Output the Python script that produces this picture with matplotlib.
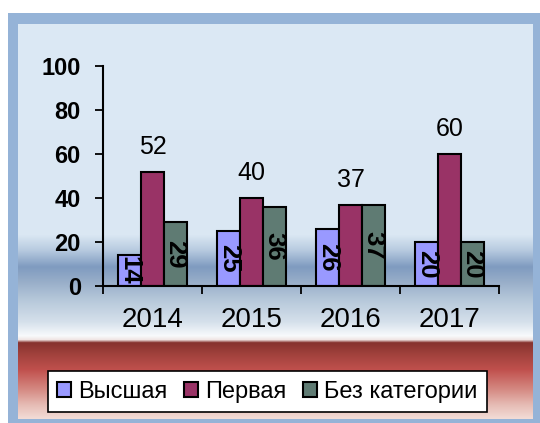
import numpy as np
import matplotlib
matplotlib.use("Agg")
import matplotlib.pyplot as plt
from matplotlib.colors import to_rgb
from matplotlib.patches import Rectangle, Patch

plt.rcParams['font.family'] = ['Liberation Sans', 'DejaVu Sans']

years = ["2014", "2015", "2016", "2017"]
series_names = ["Высшая", "Первая", "Без категории"]
vysshaya = [14, 25, 26, 20]
pervaya = [52, 40, 37, 60]
bez_kat = [29, 36, 37, 20]
yticks = [0, 20, 40, 60, 80, 100]

colors = ["#9999FF", "#993366", "#5F7B73"]

W, H = 540, 423
fig = plt.figure(figsize=(W / 100, H / 100), dpi=100)

# background / frame
bg = fig.add_axes([0, 0, 1, 1], zorder=0)
bg.axis('off')
bg.add_patch(Rectangle((8, 13), W - 8, H - 13, color="#95B3D7", lw=0, zorder=1))

stops = [
    (24, "#DCE9F5"), (235, "#DAE7F3"), (250, "#B8CBE0"), (267, "#7F9BC0"),
    (282, "#98AEC9"), (300, "#B6C8DA"), (322, "#D5E0EB"), (336, "#F8FAFC"),
    (340, "#F0E6E4"), (343, "#86322E"), (355, "#A2423D"), (370, "#C0504D"),
    (390, "#D58A83"), (405, "#E6BBB4"), (419, "#F2DCD6"),
]
y0, y1 = 24, 419
ys = np.arange(y0, y1 + 1)
sy = np.array([s[0] for s in stops], float)
sc = np.array([to_rgb(s[1]) for s in stops])
grad = np.stack([np.interp(ys, sy, sc[:, i]) for i in range(3)], axis=-1)
img = np.repeat(grad[:, None, :], 2, axis=1)
bg.imshow(img, extent=(18, 533, y1, y0), aspect='auto', interpolation='bilinear', zorder=2)
bg.set_xlim(0, W)
bg.set_ylim(H, 0)

# main axes
ax = fig.add_axes([103 / W, (H - 286) / H, 396 / W, 220 / H], zorder=1)
ax.patch.set_alpha(0)
x = np.arange(len(years))
bw = 0.229
data = [vysshaya, pervaya, bez_kat]
offsets = [-bw, 0, bw]
for vals, off, c, name in zip(data, offsets, colors, series_names):
    ax.bar(x + off, vals, bw, color=c, edgecolor="black", linewidth=1.5, label=name, zorder=2)

for xi, v in zip(x, pervaya):
    ax.annotate(str(v), (xi, v), xytext=(0, 18), textcoords='offset points',
                ha='center', va='center', fontsize=18)
for vals, off in ((vysshaya, -bw), (bez_kat, bw)):
    for xi, v in zip(x, vals):
        ax.text(xi + off, v / 2, str(v), rotation=-90, ha='center', va='center',
                fontsize=18.5, fontweight='bold', zorder=3)

ax.set_xlim(-0.5, len(years) - 0.5)
ax.set_ylim(0, 100)
ax.set_yticks(yticks)
ax.set_yticklabels([str(t) for t in yticks], fontsize=17, fontweight='bold')
ax.tick_params(axis='y', direction='out', length=6, width=1.3, pad=10)
ax.set_xticks(np.arange(-0.5, len(years), 1.0))
ax.set_xticklabels([])
ax.tick_params(axis='x', which='major', direction='out', length=6, width=1.3)
ax.set_xticks(x, minor=True)
ax.set_xticklabels(years, minor=True, fontsize=20)
ax.tick_params(axis='x', which='minor', length=0, pad=15)
for s in ['top', 'right']:
    ax.spines[s].set_visible(False)
for s in ['left', 'bottom']:
    ax.spines[s].set_linewidth(1.5)

handles = [Patch(facecolor=c, edgecolor='black', linewidth=1.5) for c in colors]
leg = fig.legend(handles, series_names, loc='center',
                 bbox_to_anchor=(267.5 / W, 1 - 391.5 / H), ncol=3,
                 fontsize=17, frameon=True, fancybox=False,
                 handlelength=0.6, handleheight=0.6, handletextpad=0.3,
                 columnspacing=0.7, borderpad=0.4)
leg.get_frame().set_edgecolor('black')
leg.get_frame().set_linewidth(1.2)
leg.get_frame().set_facecolor('white')
leg.get_frame().set_alpha(1)
leg.set_zorder(5)

fig.savefig("out.png", dpi=100)
